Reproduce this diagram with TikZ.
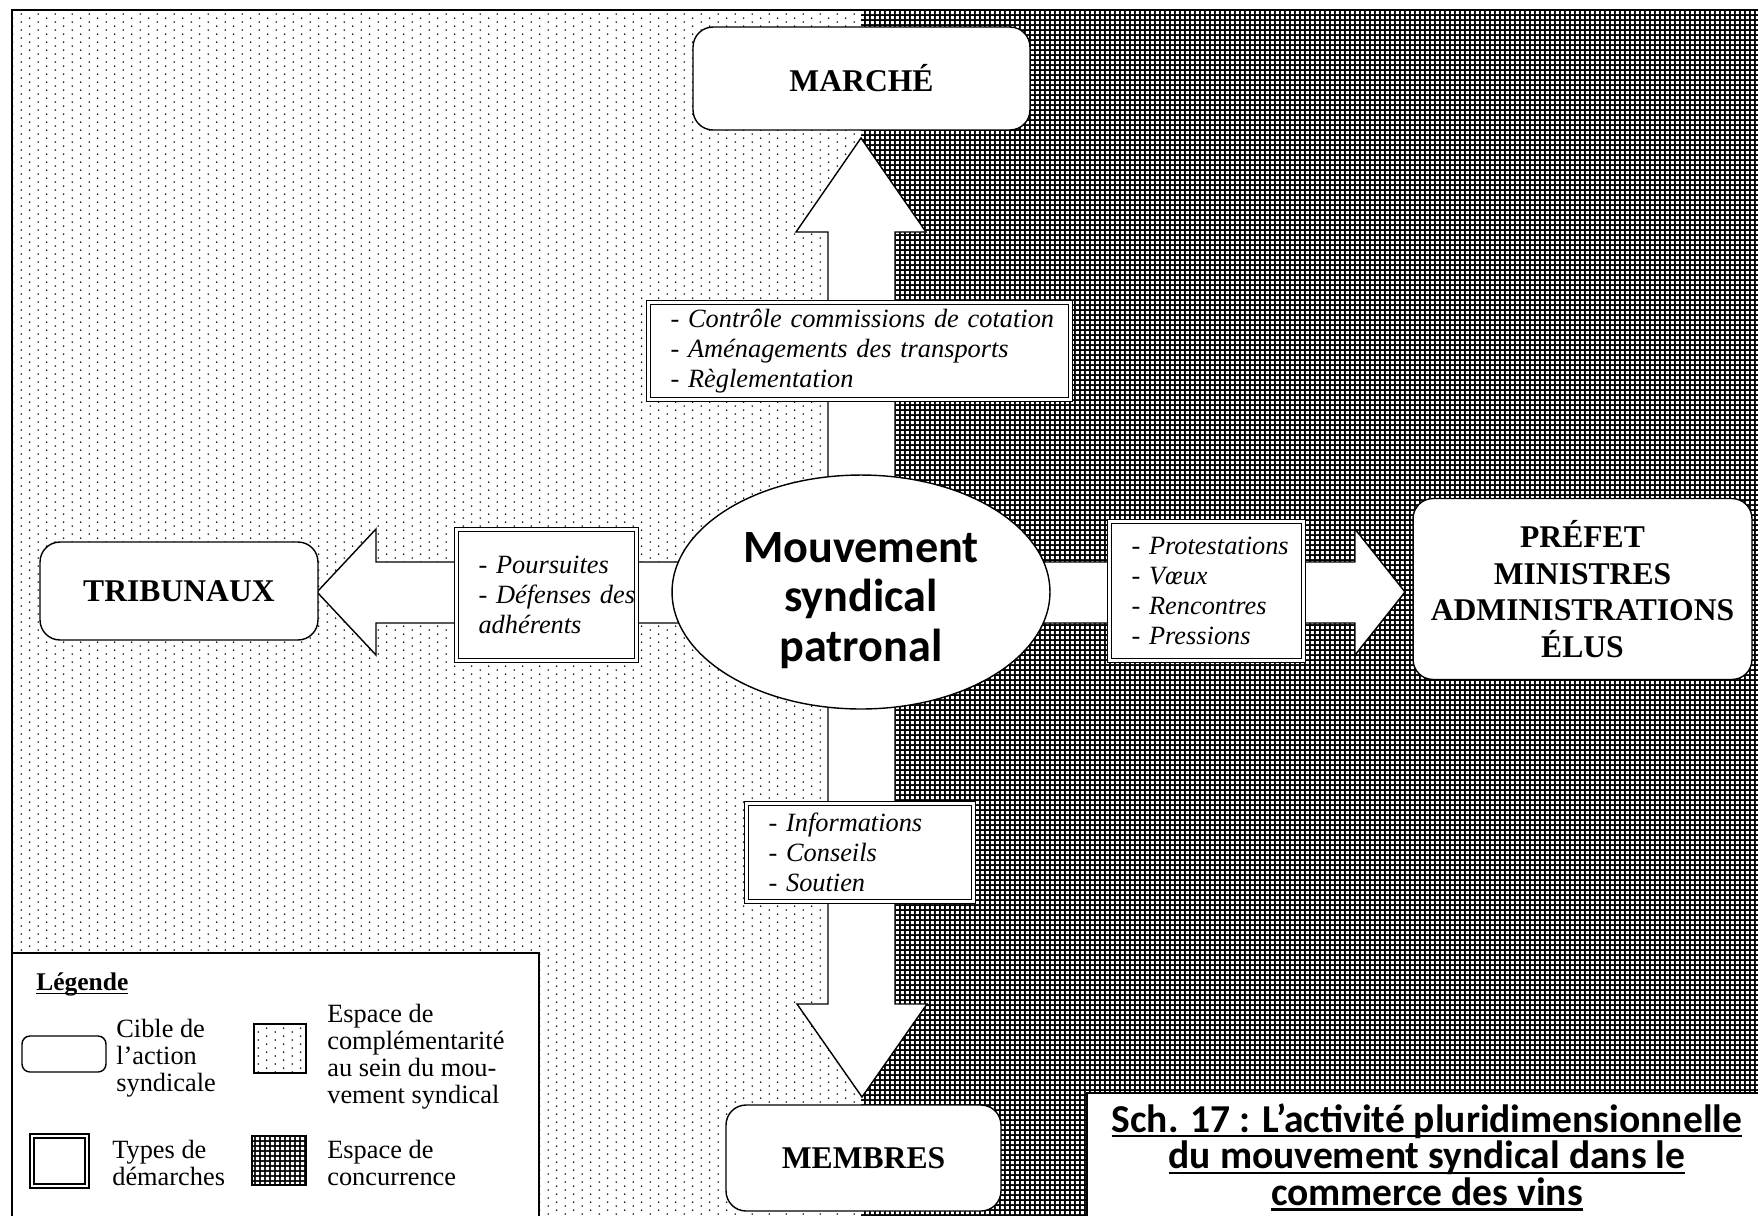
\documentclass[tikz,border=0pt]{standalone}
\usepackage{fontspec}
\setmainfont{Liberation Serif}
\newfontfamily\calibri{Carlito}
\usetikzlibrary{positioning, shapes.geometric, patterns}

% motifs des deux espaces
\pgfdeclarepatternformonly{pointille}{\pgfpointorigin}{\pgfqpoint{9.64pt}{4.76pt}}{\pgfqpoint{9.64pt}{4.76pt}}{%
  \pgfpathcircle{\pgfqpoint{2.4pt}{1.19pt}}{0.5pt}%
  \pgfpathcircle{\pgfqpoint{7.22pt}{3.57pt}}{0.5pt}%
  \pgfusepath{fill}}
\pgfdeclarepatternformonly{quadrille}{\pgfpointorigin}{\pgfqpoint{2.8pt}{2.8pt}}{\pgfqpoint{2.8pt}{2.8pt}}{%
  \pgfpathrectangle{\pgfqpoint{0.52pt}{0.52pt}}{\pgfqpoint{1.76pt}{1.76pt}}%
  \pgfusepath{fill}}

\newcommand{\souligner}[3]{\setbox0=\hbox{#3}\leavevmode\rlap{\rule[#1]{\wd0}{#2}}\box0}
\newcommand{\ligne}[1]{\mbox{- #1}}

\tikzset{
  cible/.style={draw, line width=0.8pt, fill=white, rounded corners=0.4cm, align=center,
    inner sep=0pt, font=\bfseries\fontsize{18}{20.8}\selectfont},
  demarche/.style={draw, fill=white, double, line width=1pt, double distance=1.3pt,
    align=left, inner xsep=0.39cm, inner ysep=0pt, font=\itshape\fontsize{15}{17}\selectfont},
  fleche/.style={draw, fill=white, line width=0.8pt, line join=miter},
  legtexte/.style={anchor=west, align=left, inner sep=0pt, font=\fontsize{15}{15.4}\selectfont},
}

\begin{document}
\begin{tikzpicture}[x=0.02cm, y=-0.02cm]
  \useasboundingbox (0,0) rectangle (1758,1215);
  \clip (0,0) rectangle (1758,1215);

  % espace de complementarite / espace de concurrence
  \fill[white] (12,10) rectangle (861,1260);
  \fill[pattern=pointille] (12,10) rectangle (861,1260);
  \fill[black] (861,10) rectangle (1800,1260);
  \fill[pattern=quadrille, pattern color=white] (861,10) rectangle (1800,1260);
  \draw[line width=1.5pt] (12,10) rectangle (1800,1260);

  % les quatre fleches
  \draw[fleche] (861,138) -- (926,232) -- (895,232) -- (895,562) -- (1355,562) -- (1355,529)
    -- (1405,592) -- (1355,655) -- (1355,623) -- (895,623) -- (895,1004) -- (927,1004)
    -- (862,1097) -- (797,1004) -- (828,1004) -- (828,623) -- (376,623) -- (376,655)
    -- (317,592) -- (376,529) -- (376,562) -- (828,562) -- (828,232) -- (796,232) -- cycle;

  \node[ellipse, draw, line width=0.8pt, fill=white, minimum width=7.56cm, minimum height=4.68cm,
    inner sep=0pt, font=\calibri\bfseries\fontsize{26.3}{28.4}\selectfont]
    (mouvement) at (861,592)
    {\raisebox{-0.2cm}[\height][\depth]{\begin{tabular}{@{}c@{}}Mouvement\\syndical\\patronal\end{tabular}}};

  % cibles
  \node[cible, minimum width=6.74cm, minimum height=2.06cm] (marche) at (861.5,78.5) {MARCHÉ};
  \node[cible, minimum width=5.56cm, minimum height=1.96cm] (tribunaux) at (179,591) {TRIBUNAUX};
  \node[cible, minimum width=6.78cm, minimum height=3.62cm] (prefet) at (1582.5,589)
    {PRÉFET\\MINISTRES\\ADMINISTRATIONS\\ÉLUS};
  \node[cible, minimum width=5.5cm, minimum height=2.12cm] (membres) at (863.5,1158) {MEMBRES};

  % demarches
  \node[demarche, text width=7.56cm, minimum width=8.44cm, minimum height=1.94cm] (dmarche) at (859.5,351)
    {\ligne{Contrôle commissions de cotation}\\\ligne{Aménagements des transports}\\\ligne{Règlementation}};
  \node[demarche, text width=2.72cm, minimum width=3.6cm, minimum height=2.62cm] (dtribunaux) at (546.5,595)
    {\ligne{Poursuites}\\\ligne{Défenses des}\\adhérents};
  \node[demarche, text width=3.0cm, minimum width=3.88cm, minimum height=2.78cm] (dprefet) at (1206.5,591)
    {\ligne{Protestations}\\\ligne{Vœux}\\\ligne{Rencontres}\\\ligne{Pressions}};
  \node[demarche, text width=3.66cm, minimum width=4.54cm, minimum height=1.96cm] (dmembres) at (860,852.5)
    {\ligne{Informations}\\\ligne{Conseils}\\\ligne{Soutien}};

  % legende
  \draw[fill=white, line width=0.9pt] (12,953) rectangle (539,1260);
  \node[anchor=base west, inner sep=0pt, font=\bfseries\fontsize{14.5}{16}\selectfont] (legende) at (36,990)
    {\souligner{-2.4pt}{0.8pt}{Légende}};
  \draw[rounded corners=0.16cm, line width=0.8pt, fill=white] (22,1036) rectangle (106,1072);
  \node[legtexte] (lcible) at (116,1058) {Cible de\\l’action\\syndicale};
  \draw[double, line width=1pt, double distance=1.3pt, fill=white] (32,1136) rectangle (87,1186);
  \node[legtexte] (ldemarche) at (112,1163) {Types de\\démarches};
  \draw[fill=white] (254,1024) rectangle (306,1073);
  \draw[pattern=pointille, line width=0.9pt] (254,1024) rectangle (306,1073);
  \fill[black] (252,1136) rectangle (306,1185);
  \draw[pattern=quadrille, pattern color=white, line width=0.9pt] (252,1136) rectangle (306,1185);
  \node[legtexte] (lcompl) at (327,1057) {Espace de\\complémentarité\\au sein du mou-\\vement syndical};
  \node[legtexte] (lconc) at (327,1163) {Espace de\\concurrence};

  % titre
  \draw[fill=white, line width=1.2pt] (1087,1093) rectangle (1800,1260);
  \node[align=center, inner sep=0pt, font=\calibri\bfseries\fontsize{22.5}{20.8}\selectfont] (titre) at (1427,1157)
    {\souligner{-3pt}{1.2pt}{Sch. 17 : L’activité pluridimensionnelle}\\
     \souligner{-3pt}{1.2pt}{du mouvement syndical dans le}\\
     \souligner{-3pt}{1.2pt}{commerce des vins}};
\end{tikzpicture}
\end{document}
